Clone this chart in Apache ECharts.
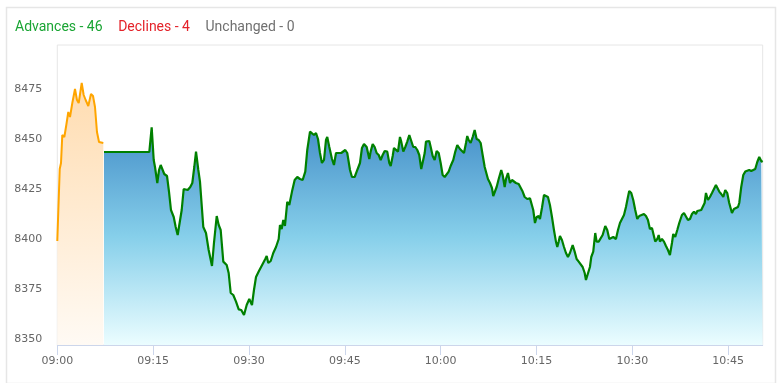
<!DOCTYPE html>
<html>
<head>
<meta charset="utf-8">
<script src="https://cdn.jsdelivr.net/npm/echarts@6/dist/echarts.min.js"></script>
<style>
html,body{margin:0;padding:0;background:#fff;}
#chart{width:777px;height:383px;}
</style>
</head>
<body>
<div id="chart"></div>
<script>
// Minutes after 09:00 and index level
var preOpenTimes = [0, 0.38, 0.58, 0.78, 1.10, 1.41, 1.72, 1.99, 2.35, 2.77, 3.08, 3.35, 3.82, 4.13, 4.44, 4.85, 5.27, 5.59, 5.90, 6.21, 6.53, 6.84, 7.20];
var preOpenValues = [8399, 8435, 8438, 8452, 8451, 8457, 8463.5, 8461, 8468, 8475, 8469.5, 8468, 8478, 8472, 8469.5, 8466.5, 8472.5, 8471.5, 8466, 8453.5, 8448.5, 8447.5, 8448];

var marketTimes = [7.31, 14.40, 14.77, 15.09, 15.29, 15.65, 15.92, 16.18, 16.43, 16.74, 17.17, 17.48, 17.79, 18.22, 18.53, 18.84, 19.15, 19.47, 19.78, 20.09, 20.41, 20.81, 21.13, 21.44, 21.71, 22.07, 22.33, 22.85, 23.27, 23.69, 24.21, 24.52, 24.95, 25.26, 25.57, 25.98, 26.51, 26.82, 27.14, 27.54, 27.97, 28.39, 28.79, 29.22, 29.64, 30.05, 30.47, 30.78, 31.10, 31.52, 31.83, 32.14, 32.55, 32.77, 33.02, 33.40, 33.80, 34.23, 34.65, 34.85, 35.12, 35.37, 35.63, 35.99, 36.31, 36.73, 37.15, 37.56, 37.98, 38.40, 38.81, 39.12, 39.55, 39.86, 40.17, 40.49, 40.80, 41.11, 41.42, 41.74, 42.05, 42.25, 42.57, 42.99, 43.30, 43.62, 44.04, 44.44, 45.07, 45.38, 45.81, 46.12, 46.54, 46.85, 47.06, 47.37, 47.68, 48.00, 48.42, 48.83, 49.04, 49.36, 49.67, 49.98, 50.30, 50.61, 50.92, 51.24, 51.64, 51.96, 52.18, 52.49, 52.69, 53.00, 53.32, 53.63, 53.83, 54.15, 54.46, 54.77, 55.09, 55.40, 55.71, 56.03, 56.34, 56.65, 56.96, 57.18, 57.50, 57.70, 58.01, 58.22, 58.44, 58.75, 59.06, 59.37, 59.69, 60.00, 60.31, 60.63, 60.94, 61.25, 61.56, 61.97, 62.29, 62.60, 63.02, 63.33, 63.65, 63.96, 64.16, 64.38, 64.69, 65.01, 65.32, 65.63, 65.95, 66.26, 66.57, 66.89, 67.09, 67.40, 67.72, 68.03, 68.23, 68.45, 68.76, 69.08, 69.48, 69.70, 70.02, 70.22, 70.53, 70.85, 71.16, 71.47, 71.78, 72.21, 72.52, 72.83, 73.15, 73.55, 73.98, 74.29, 74.49, 74.76, 75.02, 75.34, 75.54, 75.85, 76.17, 76.48, 76.79, 77.10, 77.42, 77.73, 78.04, 78.25, 78.47, 78.67, 78.98, 79.30, 79.61, 79.92, 80.23, 80.66, 80.97, 81.28, 81.60, 81.91, 82.22, 82.54, 82.74, 83.05, 83.36, 83.57, 83.88, 84.19, 84.41, 84.73, 85.04, 85.35, 85.76, 86.07, 86.39, 86.70, 87.01, 87.43, 87.75, 88.06, 88.37, 88.69, 89.00, 89.31, 89.51, 89.83, 90.14, 90.45, 90.77, 91.08, 91.39, 91.81, 92.13, 92.44, 92.75, 93.07, 93.38, 93.58, 93.90, 94.12, 94.32, 94.63, 94.95, 95.26, 95.57, 95.88, 96.20, 96.40, 96.71, 97.03, 97.34, 97.76, 98.08, 98.39, 98.70, 99.02, 99.33, 99.64, 99.95, 100.16, 100.47, 100.78, 101.00, 101.31, 101.52, 101.83, 102.14, 102.46, 102.77, 103.08, 103.29, 103.60, 103.91, 104.23, 104.54, 104.85, 105.16, 105.59, 105.90, 106.21, 106.53, 106.73, 107.04, 107.36, 107.67, 107.98, 108.29, 108.61, 108.92, 109.23, 109.55, 109.86, 110.17, 110.39];
var marketValues = [8443.5, 8443.5, 8455.8, 8439.5, 8436, 8428, 8434.5, 8437, 8435, 8432.5, 8431.5, 8423.7, 8414.5, 8411, 8406, 8402, 8401, 8414.5, 8425, 8426, 8424.5, 8426, 8428, 8436, 8443.7, 8434.5, 8428.7, 8406, 8403, 8394.5, 8386.5, 8398, 8411.5, 8407, 8404.5, 8388.7, 8387, 8383, 8373, 8372, 8368.7, 8364.8, 8364.5, 8362, 8367, 8370, 8367, 8374.5, 8381, 8383.7, 8384.5, 8387.5, 8390, 8391.5, 8388, 8389, 8393, 8396, 8400, 8407, 8405, 8409.5, 8406.5, 8418.6, 8417, 8423.7, 8429.5, 8431, 8430, 8429.5, 8433.7, 8444.5, 8453.7, 8454, 8452, 8453, 8450, 8443, 8438, 8439.5, 8449.5, 8451, 8446, 8440, 8437, 8443, 8443, 8443, 8444.5, 8443, 8434.5, 8431, 8431, 8433.7, 8433, 8438, 8445.5, 8447.5, 8446, 8440, 8443.7, 8447.5, 8446, 8443, 8442, 8439.5, 8442, 8444, 8443.7, 8438, 8436.5, 8441.5, 8445.5, 8446, 8443.7, 8451, 8448.7, 8443.7, 8446, 8448.7, 8452, 8452.5, 8446, 8446, 8444.5, 8442, 8435, 8434.5, 8443, 8448.7, 8448.7, 8449, 8446, 8441.5, 8439.5, 8444, 8443, 8438, 8432, 8431, 8431, 8433.7, 8436.5, 8439.5, 8443.7, 8447, 8445, 8444.5, 8443, 8448, 8451.5, 8449.5, 8448, 8451, 8454.5, 8450, 8449.5, 8448, 8442, 8436, 8435.5, 8430, 8428, 8425.5, 8421.5, 8421.5, 8426, 8430, 8434.5, 8432, 8426, 8430, 8433, 8428, 8429.5, 8428.7, 8428, 8427.5, 8427, 8423.7, 8421, 8420, 8420.3, 8419.5, 8414.5, 8408, 8411, 8411.5, 8410, 8415.5, 8422, 8423, 8421, 8417, 8411, 8404.5, 8398.7, 8396, 8398.7, 8401.5, 8399.5, 8396, 8393, 8391, 8393, 8397, 8393.7, 8390, 8388.7, 8388, 8386, 8383, 8379.5, 8378.7, 8386, 8391, 8393.7, 8403, 8398.7, 8398.7, 8398, 8402, 8406.5, 8404.5, 8400, 8401, 8401, 8400, 8404.5, 8408, 8410, 8412, 8416, 8421, 8424, 8423, 8419.5, 8414.5, 8410, 8411.5, 8412.5, 8412.5, 8411.5, 8409.5, 8405, 8405.5, 8404.5, 8398.7, 8400, 8402, 8398.7, 8400, 8398.7, 8396.5, 8394.5, 8392, 8398, 8402.5, 8401, 8404.5, 8408, 8412, 8413, 8413, 8409.5, 8410, 8412.5, 8413.7, 8412.5, 8414, 8413, 8414.5, 8414, 8418, 8423, 8419.5, 8421, 8423, 8423, 8427, 8428, 8423.7, 8422.5, 8421, 8424.5, 8423, 8418, 8413, 8415, 8416, 8416, 8418, 8426, 8432, 8433.7, 8434, 8434.5, 8434, 8434.5, 8435, 8438.5, 8441, 8439, 8438.5];

var xTickMinutes = [0, 15, 30, 45, 60, 75, 90, 105];
var yTickValues = [8350, 8375, 8400, 8425, 8450, 8475];
var advances = 46, declines = 4, unchanged = 0;

function zip(a, b) { return a.map(function (t, i) { return [t, b[i]]; }); }
function fmtTime(m) {
  var total = 9 * 60 + Math.round(m);
  var h = Math.floor(total / 60), mm = total % 60;
  return (h < 10 ? '0' : '') + h + ':' + (mm < 10 ? '0' : '') + mm;
}

var chart = echarts.init(document.getElementById('chart'), null, { renderer: 'canvas' });
chart.setOption({
  animation: false,
  backgroundColor: '#ffffff',
  graphic: [{
    type: 'rect', left: 4, top: 5, z: -10,
    shape: { width: 769, height: 376 },
    style: { fill: 'none', stroke: '#e6e6e6', lineWidth: 1.5 }
  }],
  title: {
    left: 10, top: 15,
    text: '{a|Advances - ' + advances + '}    {d|Declines - ' + declines + '}    {u|Unchanged - ' + unchanged + '}',
    textStyle: {
      fontWeight: 'normal', fontSize: 14,
      rich: {
        a: { color: '#1aa534', fontSize: 14, fontFamily: 'Roboto', fontWeight: 'normal' },
        d: { color: '#e4232a', fontSize: 14, fontFamily: 'Roboto', fontWeight: 'normal' },
        u: { color: '#707070', fontSize: 14, fontFamily: 'Roboto', fontWeight: 'normal' }
      }
    }
  },
  grid: {
    left: 57.3, right: 14.3, top: 45, bottom: 38,
    show: true, borderColor: '#e6e6e6', borderWidth: 1, backgroundColor: 'transparent'
  },
  xAxis: {
    type: 'value', min: 0, max: 110.4,
    axisLine: { show: true, lineStyle: { color: '#ccd6eb', width: 1 } },
    axisTick: { show: true, length: 10, customValues: xTickMinutes, lineStyle: { color: '#ccd6eb' } },
    axisLabel: {
      customValues: xTickMinutes, margin: 11,
      color: '#666666', fontSize: 11, fontFamily: 'DejaVu Sans',
      formatter: function (v) { return fmtTime(v); }
    },
    splitLine: { show: false }
  },
  yAxis: {
    type: 'value', min: 8347, max: 8497,
    axisLine: { show: false },
    axisTick: { show: false },
    axisLabel: {
      customValues: yTickValues, margin: 15,
      color: '#666666', fontSize: 11, fontFamily: 'DejaVu Sans',
      formatter: function (v) { return String(v); }
    },
    splitLine: { show: false }
  },
  series: [{
    type: 'line', name: 'Pre-open',
    data: zip(preOpenTimes, preOpenValues),
    showSymbol: false, smooth: false,
    lineStyle: { color: '#ffa500', width: 2 },
    itemStyle: { color: '#ffa500' },
    areaStyle: {
      origin: 'start', opacity: 1,
      color: new echarts.graphic.LinearGradient(0, 0, 0, 1, [
        { offset: 0, color: '#ffdcb0' },
        { offset: 1, color: '#fffaf4' }
      ])
    }
  }, {
    type: 'line', name: 'Market',
    data: zip(marketTimes, marketValues),
    showSymbol: false, smooth: false,
    lineStyle: { color: '#008000', width: 2.2 },
    itemStyle: { color: '#008000' },
    areaStyle: {
      origin: 'start', opacity: 1,
      color: new echarts.graphic.LinearGradient(0, 0, 0, 1, [
        { offset: 0, color: '#4690c9' },
        { offset: 0.5, color: '#86cfea' },
        { offset: 1, color: '#ebfdff' }
      ])
    }
  }]
});
</script>
</body>
</html>
